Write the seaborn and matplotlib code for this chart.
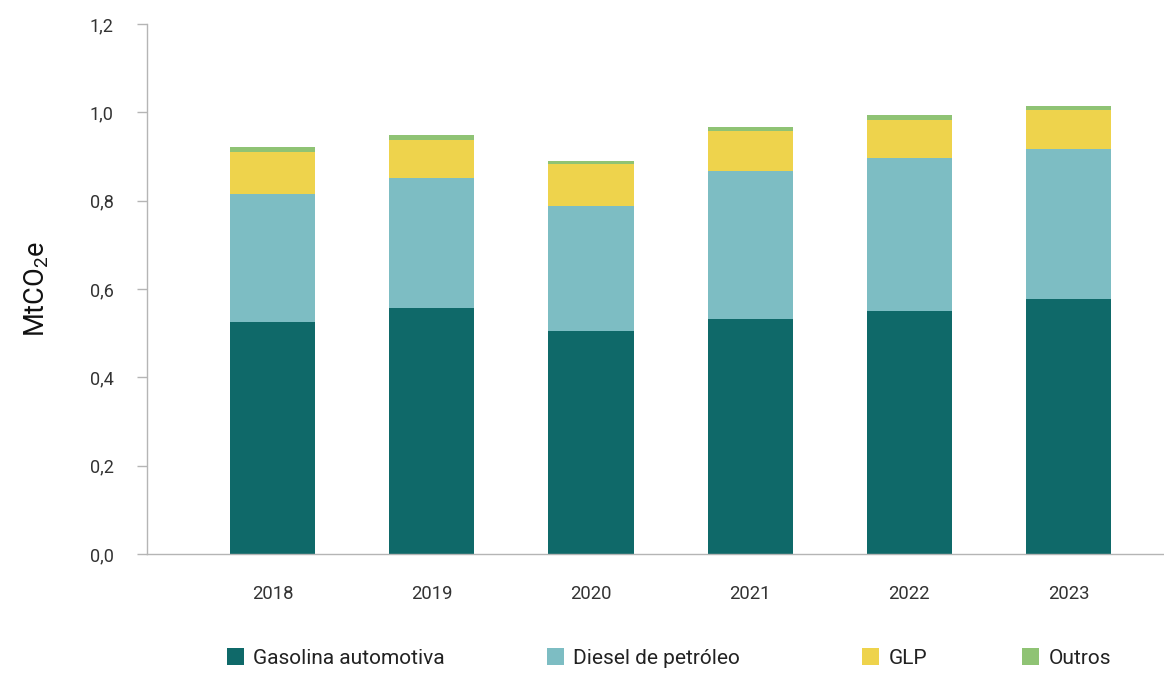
import matplotlib
matplotlib.use("Agg")
import matplotlib.pyplot as plt
from matplotlib.patches import Patch
import seaborn as sns
import pandas as pd
import numpy as np

# Emissions by fuel (MtCO2e)
years = ["2018", "2019", "2020", "2021", "2022", "2023"]
gasolina = [0.526, 0.558, 0.506, 0.533, 0.551, 0.578]
diesel = [0.290, 0.294, 0.283, 0.335, 0.345, 0.339]
glp = [0.095, 0.085, 0.095, 0.090, 0.087, 0.089]
outros = [0.011, 0.012, 0.006, 0.009, 0.011, 0.009]

series_names = ["Gasolina automotiva", "Diesel de petróleo", "GLP", "Outros"]
series_values = [gasolina, diesel, glp, outros]
colors = ["#0f6969", "#7dbdc3", "#eed34c", "#8fc374"]

yticks = [0.0, 0.2, 0.4, 0.6, 0.8, 1.0, 1.2]

sns.set_theme(style="white")
plt.rcParams["font.family"] = ["Roboto", "DejaVu Sans"]
plt.rcParams["mathtext.fontset"] = "custom"
plt.rcParams["mathtext.rm"] = "Roboto"
plt.rcParams["mathtext.it"] = "Roboto"

# cumulative stacks, drawn from the tallest down so each layer shows
stack = np.cumsum(np.array(series_values), axis=0)
df = pd.DataFrame({"ano": years})
for name, cum in zip(series_names, stack):
    df[name] = cum

fig = plt.figure(figsize=(11.64, 6.73), dpi=100)
ax = fig.add_axes([147 / 1164, 119 / 673, 1 - 147 / 1164, 530 / 673])

for name, color in reversed(list(zip(series_names, colors))):
    sns.barplot(data=df, x="ano", y=name, color=color, width=0.535,
                saturation=1, linewidth=0, ax=ax)

ax.set_xlim(-0.79, 5.6)
ax.set_ylim(0, 1.2)
ax.set_yticks(yticks)
ax.set_yticklabels([f"{t:.1f}".replace(".", ",") for t in yticks])
ax.set_xlabel("")
ax.set_ylabel("MtCO$_2$e", fontsize=19.5, color="#111111")
ax.yaxis.set_label_coords(-0.094, 0.5)

for side in ["top", "right"]:
    ax.spines[side].set_visible(False)
for side in ["left", "bottom"]:
    ax.spines[side].set_color("#b5b5b5")
    ax.spines[side].set_linewidth(1.0)

ax.tick_params(axis="y", which="major", left=True, length=7, width=1,
               color="#b5b5b5", pad=17, labelsize=13, labelcolor="#333333")
ax.tick_params(axis="x", which="major", bottom=False, pad=16,
               labelsize=13.3, labelcolor="#333333")

# legend entries placed individually along the bottom
legend_x = [227, 547, 862, 1022]
for n, c, xpix in zip(series_names, colors, legend_x):
    leg = fig.legend(handles=[Patch(facecolor=c, edgecolor="none", label=n)],
                     loc="center left", bbox_to_anchor=(xpix / 1164, 0.0223),
                     frameon=False, fontsize=15, handlelength=0.82,
                     handleheight=0.82, handletextpad=0.45, borderpad=0,
                     borderaxespad=0, labelcolor="#222222")

fig.savefig("out.png", dpi=100)
